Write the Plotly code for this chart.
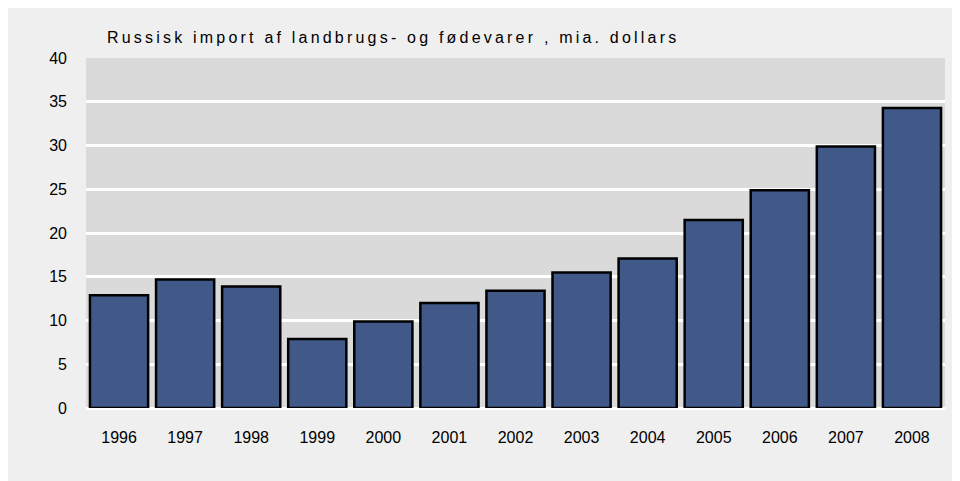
import plotly.graph_objects as go

# Russian imports of agricultural and food products, bn dollars
years = ["1996", "1997", "1998", "1999", "2000", "2001", "2002",
         "2003", "2004", "2005", "2006", "2007", "2008"]
imports = [12.9, 14.7, 13.9, 7.9, 9.9, 12.0, 13.4, 15.5, 17.1, 21.5, 24.9, 29.9, 34.3]
y_ticks = [0, 5, 10, 15, 20, 25, 30, 35, 40]
title = "Russisk import af landbrugs- og fødevarer , mia. dollars"

W, H = 960, 481
L, R, T, B = 78, 23, 50, 81

fig = go.Figure()
fig.add_trace(go.Bar(
    x=years, y=imports,
    marker=dict(color="#405988", line=dict(color="#000000", width=2.5)),
    width=0.88,
))

fig.update_layout(
    width=W, height=H,
    margin=dict(l=L, r=R, t=T, b=B),
    paper_bgcolor="#efefef",
    plot_bgcolor="#dadada",
    font=dict(family="Liberation Sans, Arial, sans-serif", size=16, color="#000000"),
    showlegend=False,
    title=dict(text="\u2009".join(title),
               x=99 / W, xanchor="left", y=1 - 29 / H, yanchor="middle",
               font=dict(size=16)),
)
fig.update_xaxes(showgrid=False, ticks="", showline=False, automargin=False,
                 ticklabelstandoff=18)
fig.update_yaxes(range=[0, 40], tickvals=y_ticks, showgrid=True,
                 gridcolor="#ffffff", gridwidth=3, zeroline=True,
                 zerolinecolor="#ffffff", zerolinewidth=3,
                 ticklabelstandoff=18, automargin=False)

fig.write_html("out.html")
